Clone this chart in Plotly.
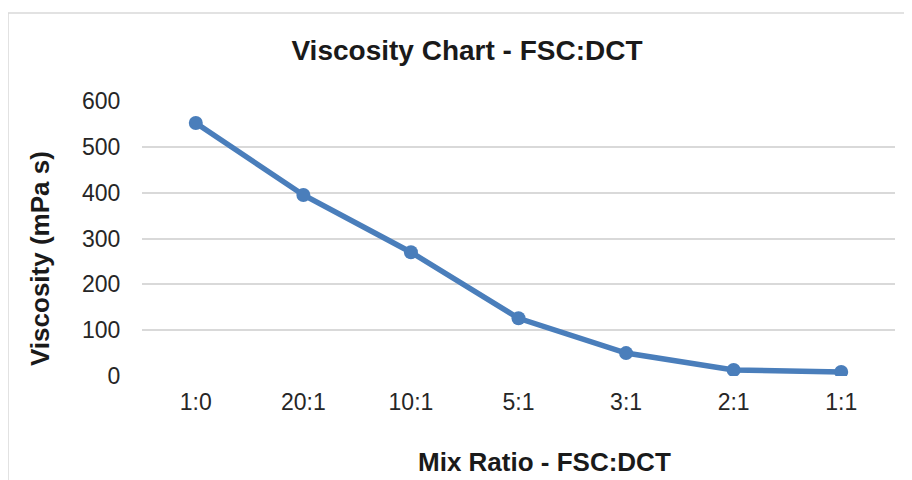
import plotly.graph_objects as go

categories = ["1:0", "20:1", "10:1", "5:1", "3:1", "2:1", "1:1"]
viscosity = [552, 395, 270, 126, 50, 13, 9]
y_ticks = [0, 100, 200, 300, 400, 500, 600]

# page body has an 8px margin, so figure coords = screen coords - 8
L, R, T, B = 134, 25, 93, 112
W, H = 912, 480
pw, ph = W - L - R, H - T - B

def px_x(q):
    return (q - L) / pw

def px_y(p):
    return (H - B - p) / ph

fig = go.Figure()
fig.add_trace(go.Scatter(
    x=categories, y=viscosity, mode="lines+markers",
    line=dict(color="#4A7EBB", width=5.5),
    marker=dict(color="#4A7EBB", size=14),
    showlegend=False,
))

fig.update_layout(
    width=W, height=H,
    margin=dict(l=L, r=R, t=T, b=B),
    paper_bgcolor="white", plot_bgcolor="white",
    font=dict(family="Liberation Sans, Arial, sans-serif", color="#262626"),
    title=dict(text="<b>Viscosity Chart - FSC:DCT</b>", x=459 / W, xanchor="center",
               y=1 - 42 / H, yanchor="middle", font=dict(size=28, color="#1a1a1a")),
    xaxis=dict(
        type="category", range=[-0.5, 6.5], showgrid=False, zeroline=False,
        showline=False, ticks="outside", ticklen=5, tickcolor="rgba(0,0,0,0)",
        tickfont=dict(size=23, color="#262626"),
    ),
    yaxis=dict(
        range=[0, 600], tickvals=y_ticks, showgrid=True, gridcolor="#d9d9d9", gridwidth=1.5,
        zeroline=False, showline=False, ticks="outside", ticklen=16,
        tickcolor="rgba(0,0,0,0)", tickfont=dict(size=23, color="#262626"),
    ),
    annotations=[
        dict(text="<b>Mix Ratio - FSC:DCT</b>", xref="paper", yref="paper",
             x=px_x(536), y=px_y(454), xanchor="center", yanchor="middle", showarrow=False,
             font=dict(size=26, color="#1a1a1a")),
        dict(text="<b>Viscosity (mPa s)</b>", xref="paper", yref="paper", textangle=-90,
             x=px_x(32), y=px_y(251), xanchor="center", yanchor="middle", showarrow=False,
             font=dict(size=26, color="#1a1a1a")),
    ],
    shapes=[dict(type="rect", xref="paper", yref="paper",
                 x0=px_x(0), x1=px_x(920), y0=px_y(490), y1=px_y(5),
                 line=dict(color="#d9d9d9", width=1.5), fillcolor="rgba(0,0,0,0)", layer="below")],
)

fig.write_html("out.html")
